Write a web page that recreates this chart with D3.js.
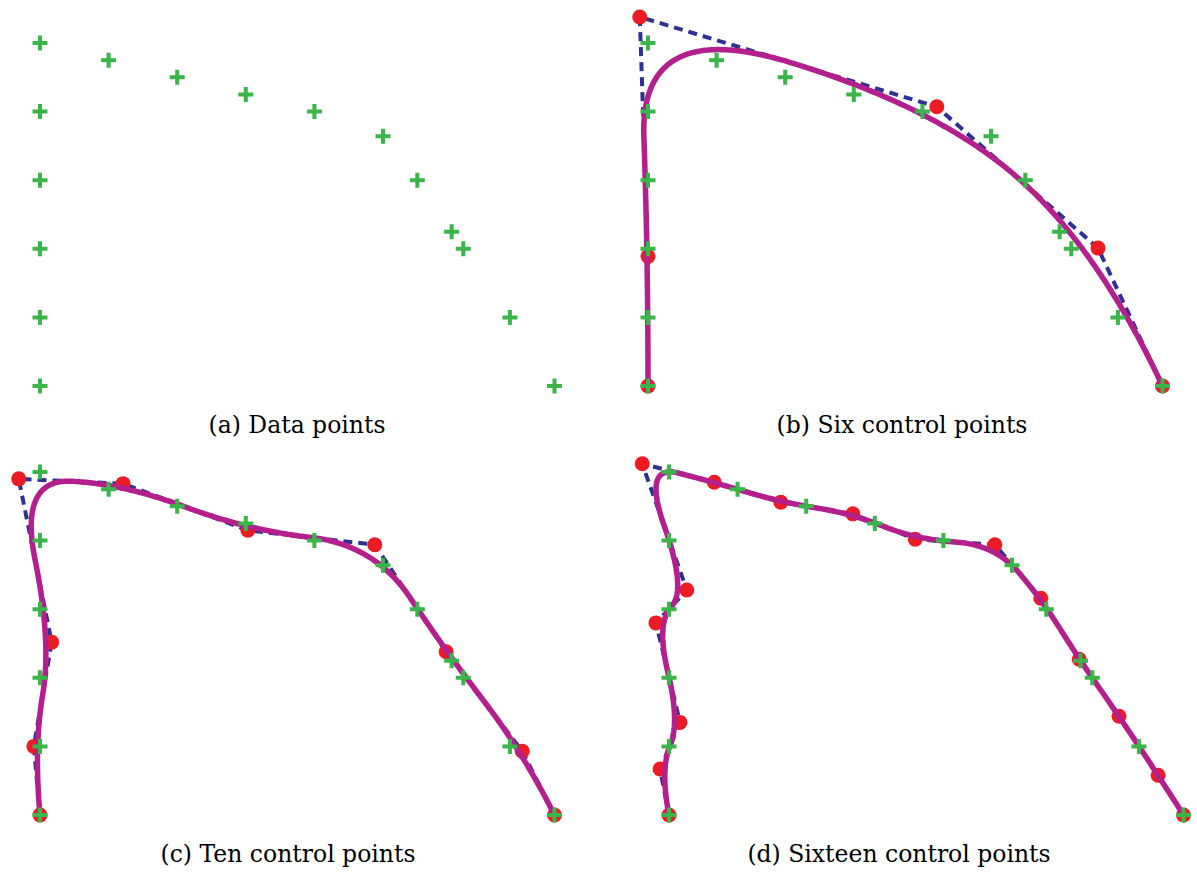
<!DOCTYPE html>
<html>
<head>
<meta charset="utf-8">
<script src="https://cdn.jsdelivr.net/npm/d3@7"></script>
<style>
  body { margin: 0; background: #fff; }
  text { font-family: "DejaVu Serif", "Liberation Serif", serif; }
</style>
</head>
<body>
<div id="chart"></div>
<script>
// data points (same in every panel), ordered along the curve
var dataX = [0, 0, 0, 0, 0, 0, 1, 2, 3, 4, 5, 5.5, 6, 6.17, 6.85, 7.5];
var dataY = [0, 1, 2, 3, 4, 5, 4.75, 4.5, 4.25, 4, 3.64, 3, 2.25, 2, 1, 0];

// control points for each fitted spline
var ctrl6X = [0, 0, -0.12, 4.21, 6.56, 7.5];
var ctrl6Y = [0, 1.89, 5.38, 4.07, 2.01, 0];

var ctrl10X = [0, -0.09, 0.17, -0.31, 1.21, 3.03, 4.88, 5.92, 7.03, 7.5];
var ctrl10Y = [0, 1.0, 2.52, 4.9, 4.83, 4.15, 3.94, 2.38, 0.93, 0];

var ctrl16X = [0, -0.13, 0.16, -0.19, 0.26, -0.39, 0.66, 1.63, 2.68, 3.59, 4.75, 5.42, 5.98, 6.56, 7.13, 7.5];
var ctrl16Y = [0, 0.67, 1.35, 2.8, 3.28, 5.12, 4.85, 4.56, 4.39, 4.02, 3.94, 3.16, 2.27, 1.44, 0.58, 0];

var captions = ['(a) Data points', '(b) Six control points', '(c) Ten control points', '(d) Sixteen control points'];

var width = 1197, height = 872;
var unit = 68.6;
var degree = 2;

var panels = [
  { ox: 40,  oy: 386, cx: null,    cy: null,    tx: 297, ty: 433 },
  { ox: 648, oy: 386, cx: ctrl6X,  cy: ctrl6Y,  tx: 902, ty: 433 },
  { ox: 40,  oy: 815, cx: ctrl10X, cy: ctrl10Y, tx: 288, ty: 862 },
  { ox: 669, oy: 815, cx: ctrl16X, cy: ctrl16Y, tx: 899, ty: 862 }
];

var svg = d3.select('#chart')
            .append('svg')
            .attr('width', width)
            .attr('height', height);

function zip(xs, ys) {
  return xs.map(function(v, i) { return [v, ys[i]]; });
}

// clamped uniform B-spline, sampled with de Boor
function bspline(pts, k, n) {
  var m = pts.length;
  var knots = [];
  for (var i = 0; i <= k; i++) knots.push(0);
  for (var j = 1; j < m - k; j++) knots.push(j / (m - k));
  for (var i2 = 0; i2 <= k; i2++) knots.push(1);
  var out = [];
  for (var s = 0; s <= n; s++) {
    var t = s / n;
    var span = k;
    while (span < m - 1 && t >= knots[span + 1]) span++;
    var d = [];
    for (var r = 0; r <= k; r++) d.push(pts[span - k + r].slice());
    for (var lv = 1; lv <= k; lv++) {
      for (var q = k; q >= lv; q--) {
        var idx = span - k + q;
        var den = knots[idx + k + 1 - lv] - knots[idx];
        var a = den === 0 ? 0 : (t - knots[idx]) / den;
        d[q] = [(1 - a) * d[q - 1][0] + a * d[q][0], (1 - a) * d[q - 1][1] + a * d[q][1]];
      }
    }
    out.push(d[k]);
  }
  return out;
}

var dataPts = zip(dataX, dataY);

panels.forEach(function(p, pi) {
  var x = d3.scaleLinear().domain([0, 7.5]).range([p.ox, p.ox + 7.5 * unit]);
  var y = d3.scaleLinear().domain([0, 5]).range([p.oy, p.oy - 5 * unit]);
  var g = svg.append('g');
  var line = d3.line()
               .x(function(d) { return x(d[0]); })
               .y(function(d) { return y(d[1]); });

  if (p.cx) {
    var ctrl = zip(p.cx, p.cy);

    g.append('path')
     .attr('d', line(ctrl))
     .attr('fill', 'none')
     .attr('stroke', '#2e3192')
     .attr('stroke-width', 4)
     .attr('stroke-dasharray', '9,6');

    g.selectAll('circle')
     .data(ctrl)
     .enter()
     .append('circle')
       .attr('cx', function(d) { return x(d[0]); })
       .attr('cy', function(d) { return y(d[1]); })
       .attr('r', 7.5)
       .attr('fill', '#ed1c24');

    g.append('path')
     .attr('d', line(bspline(ctrl, degree, 400)))
     .attr('fill', 'none')
     .attr('stroke', '#b31f8c')
     .attr('stroke-width', 5.5)
     .attr('stroke-linejoin', 'round');
  }

  g.selectAll('path.cross')
   .data(dataPts)
   .enter()
   .append('path')
     .attr('class', 'cross')
     .attr('transform', function(d) { return 'translate(' + x(d[0]) + ',' + y(d[1]) + ')'; })
     .attr('d', 'M-7.5,0H7.5M0,-7.5V7.5')
     .attr('stroke', '#39b54a')
     .attr('stroke-width', 4);

  g.append('text')
   .attr('x', p.tx)
   .attr('y', p.ty)
   .attr('text-anchor', 'middle')
   .attr('font-size', 23.5)
   .attr('fill', '#000')
   .text(captions[pi]);
});
</script>
</body>
</html>
